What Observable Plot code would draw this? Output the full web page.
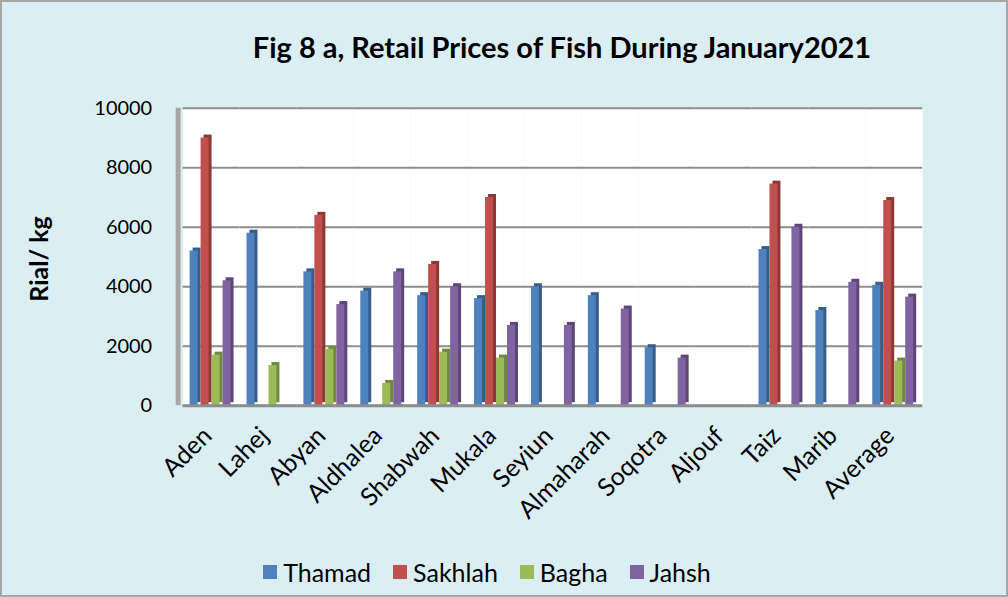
<!DOCTYPE html>
<html>
<head>
<meta charset="utf-8">
<script src="https://cdn.jsdelivr.net/npm/d3@7"></script>
<script src="https://cdn.jsdelivr.net/npm/@observablehq/plot@0.6"></script>
<style>
  html, body { margin: 0; padding: 0; background: #fff; }
  #wrap { position: relative; width: 1004px; height: 593px; background: #dbeef4; border: 2px solid #a6a6a6; overflow: hidden; font-family: Lato, "Open Sans", sans-serif; }
  #title { position: absolute; left: 0; width: 1120px; top: 27px; text-align: center; font-weight: bold; font-size: 29px; color: #000; }
  #ylab { position: absolute; left: 36px; top: 257px; transform: translate(-50%, -50%) rotate(-90deg); font-weight: bold; font-size: 25px; white-space: nowrap; }
  #legend { position: absolute; left: 0; width: 970px; top: 555px; display: flex; justify-content: center; gap: 22px; font-size: 25px; }
  #legend span.item { display: flex; align-items: center; gap: 6px; }
  #legend span.sw { display: inline-block; width: 14px; height: 14px; }
  #chart { position: absolute; left: -2px; top: -2px; }
</style>
</head>
<body>
<div id="wrap">
  <div id="chart"></div>
  <div id="title">Fig 8 a, Retail Prices of Fish During January2021</div>
  <div id="ylab">Rial/ kg</div>
  <div id="legend"></div>
</div>
<script>
const categories = ["Aden","Lahej","Abyan","Aldhalea","Shabwah","Mukala","Seyiun","Almaharah","Soqotra","Aljouf","Taiz","Marib","Average"];
const series = ["Thamad","Sakhlah","Bagha","Jahsh"];
const colors = ["#4f81bd","#c0504d","#9bbb59","#8064a2"];
const darkColors = ["#385d8a","#8c3836","#71893f","#5c4776"];
const thamad  = [5200, 5800, 4500, 3850, 3700, 3600, 4000, 3700, 1950, null, 5250, 3200, 4050];
const sakhlah = [9000, null, 6400, null, 4750, 7000, null, null, null, null, 7450, null, 6900];
const bagha   = [1700, 1350, 1900, 750, 1800, 1600, null, null, null, null, null, null, 1500];
const jahsh   = [4200, null, 3400, 4500, 4000, 2700, 2700, 3250, 1600, null, 6000, 4150, 3650];
const yTicks = [0, 2000, 4000, 6000, 8000, 10000];

const valuesBySeries = [thamad, sakhlah, bagha, jahsh];
const data = [];
categories.forEach((c, i) => {
  series.forEach((s, j) => {
    const v = valuesBySeries[j][i];
    if (v != null) data.push({cat: c, series: s, value: v});
  });
});
const dark = d => darkColors[series.indexOf(d.series)];

const chart = Plot.plot({
  width: 1008,
  height: 597,
  marginTop: 108,
  marginBottom: 191,
  marginLeft: 178,
  marginRight: 80,
  style: {background: "transparent", fontFamily: "Lato, 'Open Sans', sans-serif", fontSize: "19px", color: "#000"},
  fx: {domain: categories, padding: 0, label: null, axis: null},
  x: {domain: series, paddingInner: 0, paddingOuter: 0.5, axis: null},
  y: {domain: [0, 10000], label: null, axis: null},
  color: {domain: series, range: colors},
  marks: [
    Plot.frame({fill: "white"}),
    Plot.rectY([categories[0]], {fx: d => d, y1: 0, y2: 10000, fill: "#a6a6a6", dx: -7, insetRight: 52}),
    Plot.gridY(yTicks, {stroke: "#8c8c8c", strokeOpacity: 1, strokeWidth: 2}),
    Plot.axisY(yTicks, {tickSize: 0, tickPadding: 31, tickFormat: d3.format("d"), fontSize: 20, label: null}),
    Plot.axisFx({anchor: "bottom", tickRotate: -45, tickSize: 0, tickPadding: 16, fontSize: 25, label: null, dx: -4, dy: 10}),
    Plot.barY(data, {fx: "cat", x: "series", y: "value", fill: dark, dx: 3, dy: -3, insetRight: 3}),
    Plot.barY(data, {fx: "cat", x: "series", y: "value", fill: "series", insetRight: 3}),
    Plot.ruleY(categories, {fx: d => d, y: 0, stroke: "#8c8c8c", strokeWidth: 3})
  ]
});
document.getElementById("chart").appendChild(chart);

const legend = document.getElementById("legend");
series.forEach((s, j) => {
  const item = document.createElement("span");
  item.className = "item";
  const sw = document.createElement("span");
  sw.className = "sw";
  sw.style.background = colors[j];
  item.appendChild(sw);
  item.appendChild(document.createTextNode(s));
  legend.appendChild(item);
});
</script>
</body>
</html>
